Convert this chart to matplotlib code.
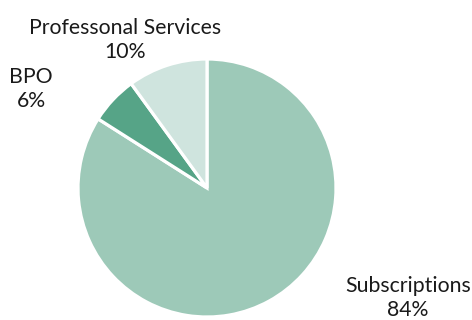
import matplotlib
matplotlib.use("Agg")
import matplotlib.pyplot as plt

categories = ["Subscriptions", "BPO", "Professonal Services"]
shares = [84, 6, 10]
colors = ["#9dc9b8", "#56a487", "#cfe4de"]

plt.rcParams["font.family"] = ["Lato", "DejaVu Sans"]

W, H = 472, 320
fig = plt.figure(figsize=(W / 100, H / 100), dpi=100)
ax = fig.add_axes([0, 0, 1, 1])

ax.pie(shares, colors=colors, startangle=90, counterclock=False,
       center=(207, H - 188), radius=129,
       wedgeprops=dict(edgecolor="white", linewidth=2.3))

# pie() resets the view, so fix pixel-sized limits afterwards
ax.set_xlim(0, W)
ax.set_ylim(0, H)
ax.set_aspect("equal")
ax.axis("off")

# label anchor points (horizontal centre, baseline of the last line)
label_pos = {"Subscriptions": (408, H - 316),
             "BPO": (31, H - 107),
             "Professonal Services": (125, H - 58)}
for name, val in zip(categories, shares):
    x, y = label_pos[name]
    ax.text(x, y, f"{name}\n{val}%", ha="center", va="baseline",
            multialignment="center", fontsize=15.3, color="#1a1a1a",
            linespacing=1.28)

fig.savefig("out.png", dpi=100, facecolor="white")
